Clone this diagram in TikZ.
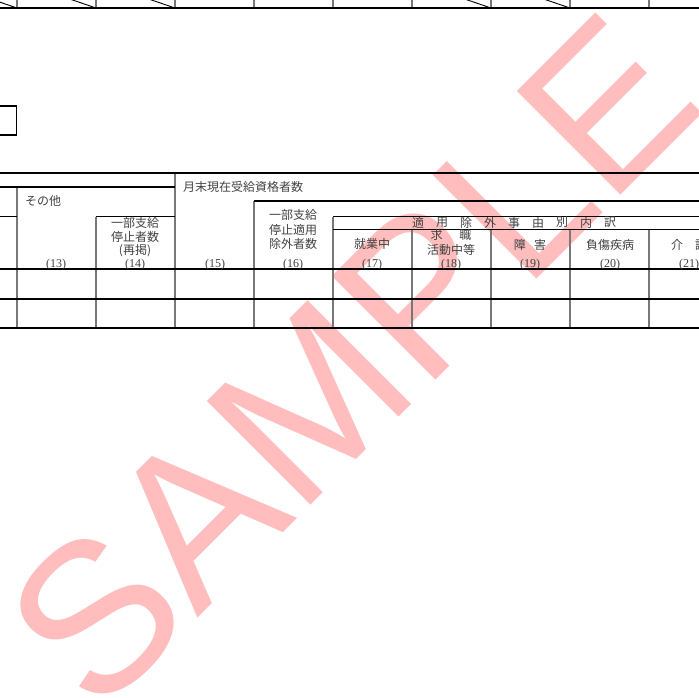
\documentclass[tikz,border=0pt]{standalone}
\usepackage{fontspec}
\setmainfont{Liberation Serif}
\newfontfamily\jpfont{Noto Sans CJK JP}
\newfontfamily\wmfont{Liberation Sans}
\definecolor{wmpink}{RGB}{255,189,189}
\definecolor{vgray}{RGB}{120,120,120}
\definecolor{txtgray}{RGB}{65,65,65}
\tikzset{
  hl/.style={line width=1.2pt, black},
  vl/.style={line width=1.6pt, vgray},
  diag/.style={line width=0.9pt, black},
  jt/.style={font=\jpfont\fontsize{12}{14}\selectfont, text=txtgray, inner sep=0pt},
  nt/.style={font=\fontsize{12}{14}\selectfont, text=txtgray, inner sep=0pt},
  wmark/.style={font=\wmfont\fontsize{213}{213}\selectfont, text=wmpink, inner sep=0pt, rotate=45, anchor=base}
}
\begin{document}
\begin{tikzpicture}[x=1pt,y=-1pt]
\useasboundingbox (0,0) rectangle (699,697);
\clip (0,0) rectangle (699,697);
% watermark (underneath)
\node[wmark] (wm) at (403,413) {SAMPLE};
% top strip
\foreach \x in {17,96,175,254,333,412,491,570,649} \draw[vl] (\x,-2) -- (\x,8);
\foreach \x in {17,96,175,491,570} \draw[diag] (\x-79,-19) -- (\x,8);
\draw[hl] (0,8) -- (699,8);
% small box
\draw[hl] (-5,106) rectangle (16.5,135);
% table verticals
\draw[vl] (17,187) -- (17,328);
\draw[vl] (96,216.5) -- (96,328);
\draw[vl] (175,173) -- (175,328);
\draw[vl] (254,201) -- (254,328);
\draw[vl] (333,216.5) -- (333,328);
\foreach \x in {412,491,570,649} \draw[vl] (\x,229.5) -- (\x,328);
% table horizontals
\draw[hl] (0,173) -- (699,173);
\draw[hl] (0,187) -- (175,187);
\draw[hl] (254,201) -- (699,201);
\draw[hl] (0,216.5) -- (17,216.5);
\draw[hl] (96,216.5) -- (175,216.5);
\draw[hl] (333,216.5) -- (699,216.5);
\draw[hl] (333,229.5) -- (699,229.5);
\draw[hl] (0,269) -- (699,269);
\draw[hl] (0,299) -- (699,299);
\draw[hl] (0,328) -- (699,328);
% texts
\node[jt, anchor=west] (sonota) at (25,201) {その他};
\node[jt] (c14a) at (135,223) {一部支給};
\node[jt] (c14b) at (135,237) {停止者数};
\node[jt] (c14c) at (135,251) {(再掲)};
\node[jt, anchor=west] (getsumatsu) at (183,187) {月末現在受給資格者数};
\node[jt] (c16a) at (293,215) {一部支給};
\node[jt] (c16b) at (293,230) {停止適用};
\node[jt] (c16c) at (293,244) {除外者数};
\foreach \c [count=\i from 0] in {適,用,除,外,事,由,別,内,訳}
  \node[jt] (hdr\i) at (418+24*\i,222.5) {\c};
\node[jt] (c17) at (372,244) {就業中};
\node[jt] (c18a) at (451,235) {求\hspace{1.4em}職};
\node[jt] (c18b) at (451,250) {活動中等};
\node[jt] (c19) at (530,245) {障\hspace{0.7em}害};
\node[jt] (c20) at (610,245) {負傷疾病};
\node[jt] (c21) at (689,245) {介\hspace{1em}護};
\foreach \n/\x in {13/56,14/135,15/215,16/293,17/372,18/451,19/530,20/610,21/689}
  \node[nt] (n\n) at (\x,264.5) {(\n)};
\end{tikzpicture}
\end{document}
